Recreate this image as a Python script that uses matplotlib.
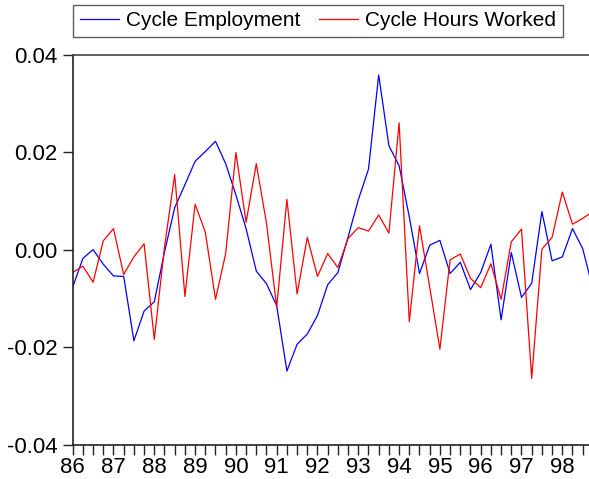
import matplotlib
matplotlib.use("Agg")
import matplotlib.pyplot as plt
import numpy as np
from matplotlib.ticker import MultipleLocator, FixedLocator

plt.rcParams['font.family'] = ['Liberation Sans', 'DejaVu Sans']

# Quarterly data, 1986Q1 .. 1998Q4
start_year = 86
year_labels = ['86', '87', '88', '89', '90', '91', '92', '93', '94', '95', '96', '97', '98']

cycle_employment = [
    -0.0077, -0.0018, 0.0000, -0.0030, -0.0054, -0.0055, -0.0187, -0.0126, -0.0107, -0.0005,
    0.0086, 0.0133, 0.0181, 0.0201, 0.0222, 0.0176, 0.0112, 0.0043, -0.0044, -0.0070,
    -0.0115, -0.0249, -0.0194, -0.0173, -0.0135, -0.0072, -0.0047, 0.0026, 0.0102, 0.0165,
    0.0358, 0.0213, 0.0172, 0.0067, -0.0049, 0.0009, 0.0019, -0.0049, -0.0026, -0.0082,
    -0.0047, 0.0011, -0.0144, -0.0006, -0.0098, -0.0069, 0.0078, -0.0023, -0.0015, 0.0043,
    0.0002, -0.0080]

cycle_hours = [
    -0.0047, -0.0034, -0.0067, 0.0018, 0.0043, -0.0051, -0.0015, 0.0012, -0.0184, 0.0005,
    0.0154, -0.0096, 0.0093, 0.0036, -0.0102, -0.0008, 0.0199, 0.0056, 0.0176, 0.0054,
    -0.0118, 0.0103, -0.0091, 0.0025, -0.0055, -0.0008, -0.0037, 0.0023, 0.0045, 0.0038,
    0.0071, 0.0034, 0.0260, -0.0148, 0.0049, -0.0077, -0.0204, -0.0021, -0.0009, -0.0059,
    -0.0078, -0.0029, -0.0102, 0.0016, 0.0042, -0.0264, 0.0001, 0.0025, 0.0118, 0.0052,
    0.0064, 0.0078]

y_ticks = [-0.04, -0.02, 0.00, 0.02, 0.04]
y_tick_labels = ['-0.04', '-0.02', '0.00', '0.02', '0.04']

W, H = 589, 479
fig = plt.figure(figsize=(W / 100, H / 100), dpi=100)
left_px, top_px, bottom_px = 72.7, 54.5, 444.7
ax = fig.add_axes([left_px / W, 1 - bottom_px / H, 1 - left_px / W, (bottom_px - top_px) / H])

t = start_year + np.arange(len(cycle_employment)) / 4.0
ax.plot(t, cycle_employment, color='#0000ff', lw=0.9, label='Cycle Employment')
ax.plot(t, cycle_hours, color='#ff0000', lw=0.9, label='Cycle Hours Worked')

px_per_year = 40.8
ax.set_xlim(start_year, start_year + (W - left_px) / px_per_year)
ax.set_ylim(-0.04, 0.04)

year_pos = [start_year + i for i in range(len(year_labels))]
ax.xaxis.set_major_locator(FixedLocator(year_pos))
ax.set_xticklabels(year_labels)
ax.xaxis.set_minor_locator(MultipleLocator(0.25))
ax.set_yticks(y_ticks)
ax.set_yticklabels(y_tick_labels)

ax.tick_params(axis='both', which='major', labelsize=16, length=7, width=1.0, color='#222222', direction='out')
ax.tick_params(axis='x', which='minor', length=7, width=1.0, color='#222222', direction='out')
ax.tick_params(axis='y', pad=4)
ax.tick_params(axis='x', pad=2)

for s in ['left', 'bottom']:
    ax.spines[s].set_color('#222222')
    ax.spines[s].set_linewidth(1.2)
ax.spines['top'].set_color('#444444')
ax.spines['top'].set_linewidth(1.2)
ax.spines['right'].set_visible(False)

leg = fig.legend(loc='upper left', bbox_to_anchor=(73.3 / W, 1 - 5 / H), ncol=2,
                 fontsize=15, frameon=True, fancybox=False, borderaxespad=0,
                 borderpad=0.3, handlelength=1.9, handletextpad=0.35, columnspacing=0.85)
leg.get_frame().set_edgecolor('#333333')
leg.get_frame().set_linewidth(1.0)

fig.savefig('out.png', dpi=100)
